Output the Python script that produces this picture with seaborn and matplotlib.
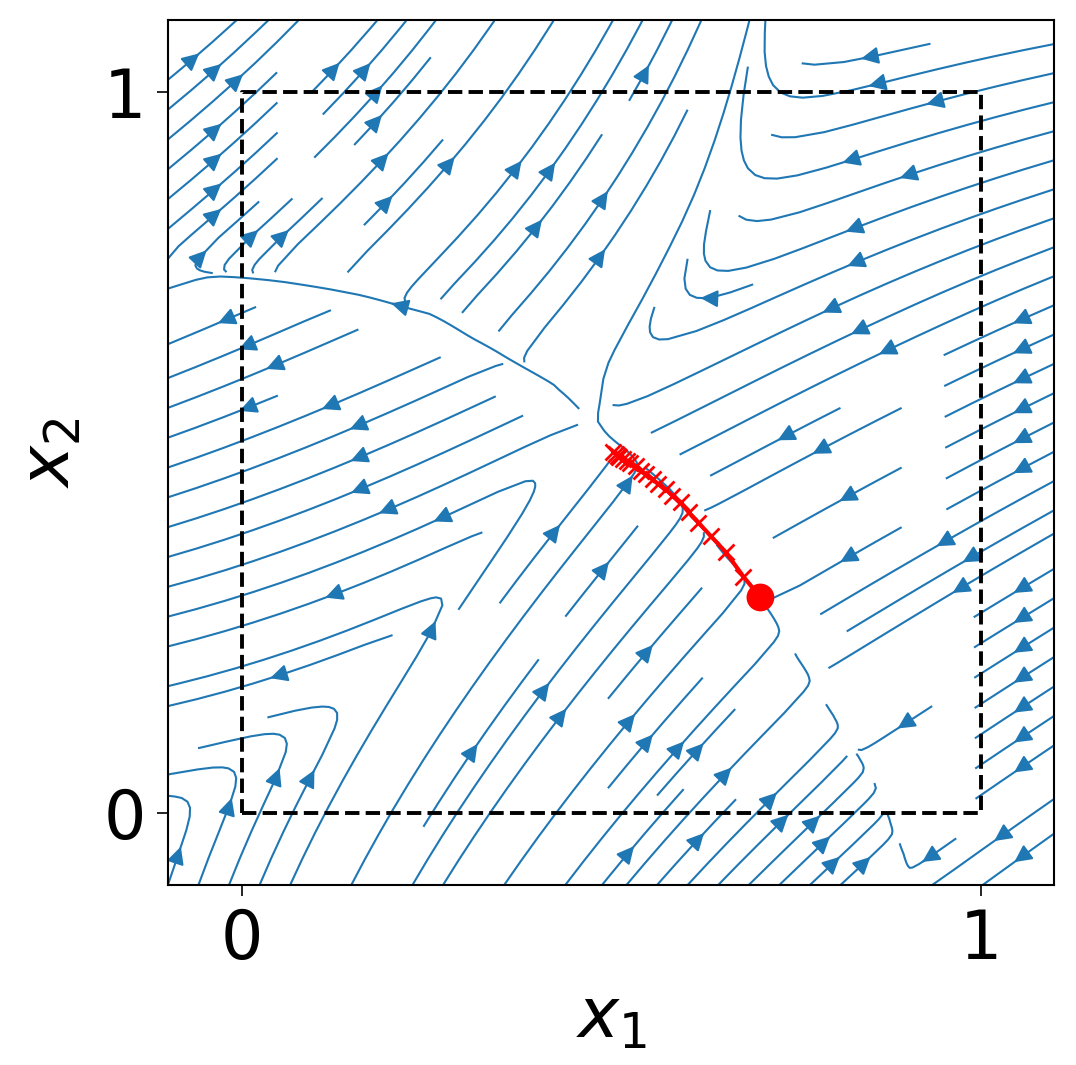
import numpy as np
import matplotlib
matplotlib.use("Agg")
import matplotlib.pyplot as plt
import seaborn as sns

# --- field ------------------------------------------------------------
# attracting curve (lower-right arm -> meeting point -> upper-right arm), x as a function of y
att_y = [-0.10, 0.03, 0.30, 0.45, 0.53, 0.60, 0.70, 0.80, 1.00, 1.10]
att_x = [0.91, 0.865, 0.704, 0.58, 0.49, 0.50, 0.59, 0.66, 0.72, 0.75]
# how soft that curve is, lower arm vs upper arm
att_soft_y = [0.50, 0.75]
att_soft = [0.03, 0.07]
# repelling wedge on the left (streams run down-left inside it)
wedge_x = [-0.10, -0.05, 0.05, 0.14, 0.25, 0.42, 0.47, 0.70]
wedge_top = [0.76, 0.755, 0.745, 0.73, 0.70, 0.60, 0.55, 0.35]
wedge_bot = [0.00, 0.03, 0.10, 0.15, 0.27, 0.49, 0.53, 0.75]
wedge_soft = [0.03]

# stream directions (degrees) on a coarse grid, rows = y
grid_x = [-0.1, 0.3, 0.7, 1.1]
grid_y = [-0.1, 0.3, 0.7, 1.1]
angle_up = [[72, 58, 45, 40],        # up-right streams
            [62, 55, 48, 42],
            [40, 46, 62, 60],
            [40, 55, 68, 70]]
angle_down = [[190, 208, 216, 217],  # down-left streams
              [195, 206, 211, 212],
              [204, 205, 206, 204],
              [205, 200, 194, 190]]

# red trajectory (x markers), starting at the big dot
traj_x = [0.702, 0.679, 0.655, 0.635, 0.618, 0.605, 0.594, 0.583, 0.574, 0.564,
          0.556, 0.547, 0.540, 0.533, 0.526, 0.521, 0.516, 0.511, 0.509, 0.506, 0.503]
traj_y = [0.299, 0.328, 0.362, 0.384, 0.403, 0.417, 0.431, 0.440, 0.449, 0.456,
          0.463, 0.470, 0.474, 0.481, 0.485, 0.488, 0.491, 0.494, 0.495, 0.498, 0.501]
start_point = [0.702, 0.299]

box_x = [0, 1, 1, 0, 0]
box_y = [0, 0, 1, 1, 0]
ticks = [0, 1]
lims = [-0.1, 1.1]

sns.set_style("ticks")
plt.rcParams['font.family'] = ['DejaVu Sans']
for k in ['text.color', 'axes.labelcolor', 'xtick.color', 'ytick.color']:
    plt.rcParams[k] = 'black'


def grid_interp(X, Y, table):
    T = np.array(table, dtype=float)
    tx = np.interp(X, grid_x, np.arange(len(grid_x)))
    ty = np.interp(Y, grid_y, np.arange(len(grid_y)))
    i0 = np.clip(np.floor(tx).astype(int), 0, len(grid_x) - 2)
    j0 = np.clip(np.floor(ty).astype(int), 0, len(grid_y) - 2)
    fx, fy = tx - i0, ty - j0
    return (T[j0, i0] * (1 - fx) * (1 - fy) + T[j0, i0 + 1] * fx * (1 - fy)
            + T[j0 + 1, i0] * (1 - fx) * fy + T[j0 + 1, i0 + 1] * fx * fy)


g = np.linspace(lims[0], lims[1], 241)
X, Y = np.meshgrid(g, g)
w_att = np.interp(Y, att_soft_y, att_soft)
left_of_att = np.tanh((np.interp(Y, att_y, att_x) - X) / w_att)
inside = np.minimum(np.interp(X, wedge_x, wedge_top) - Y, Y - np.interp(X, wedge_x, wedge_bot))
outside_wedge = np.tanh(-inside / wedge_soft[0])
sigma = np.minimum(left_of_att, outside_wedge)
a_up = np.deg2rad(grid_interp(X, Y, angle_up))
a_dn = np.deg2rad(grid_interp(X, Y, angle_down))
wp, wm = (1 + sigma) / 2, (1 - sigma) / 2
U = wp * np.cos(a_up) + wm * np.cos(a_dn)
V = wp * np.sin(a_up) + wm * np.sin(a_dn)

fig = plt.figure(figsize=(10.76, 10.65), dpi=100)
ax = fig.add_axes([0.156, 0.169, 0.824, 0.812])

ax.streamplot(X, Y, U, V, color='#1f77b4', linewidth=1.5, arrowsize=2.6, density=1.0)

ax.plot(box_x, box_y, color='black', linestyle='--', linewidth=2.8)

sns.lineplot(x=traj_x, y=traj_y, sort=False, ax=ax, color='red', linewidth=3,
             marker='x', markersize=11, markeredgewidth=2, markeredgecolor='red')
sns.scatterplot(x=[start_point[0]], y=[start_point[1]], ax=ax, color='red', s=400,
                edgecolor='none', zorder=5)

ax.set_xticks(ticks)
ax.set_yticks(ticks)
ax.tick_params(labelsize=48, length=8, width=1.2, pad=8)
ax.set_xlabel('$x_1$', fontsize=50, labelpad=8)
ax.set_ylabel('$x_2$', fontsize=50, labelpad=14)
for s in ax.spines.values():
    s.set_linewidth(1.5)
    s.set_color('black')
ax.set_autoscale_on(False)
ax.set_xlim(lims)
ax.set_ylim(lims)

fig.savefig('out.png', dpi=100)
